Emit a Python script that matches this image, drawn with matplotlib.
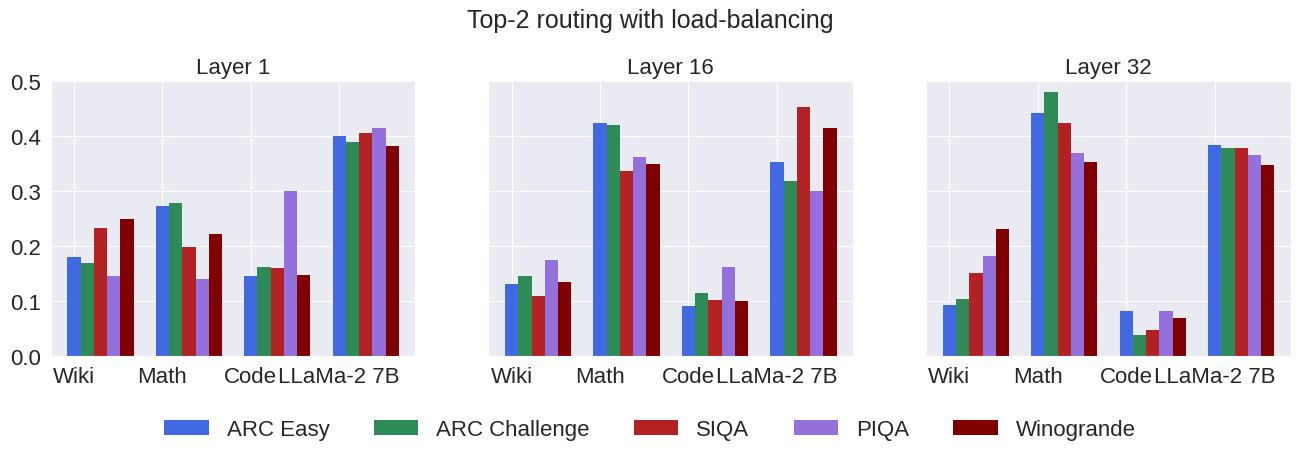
import numpy as np
import matplotlib

matplotlib.use("Agg")
import matplotlib.pyplot as plt
import seaborn as sns

sns.set_style("darkgrid")
plt.rcParams["font.family"] = ["Liberation Sans", "DejaVu Sans"]

# ── Data ──────────────────────────────────────────────────────────────────────
categories = ["Wiki", "Math", "Code", "LLaMa-2 7B"]
series = ["ARC Easy", "ARC Challenge", "SIQA", "PIQA", "Winogrande"]
colors = ["royalblue", "seagreen", "firebrick", "mediumpurple", "maroon"]
layers = ["Layer 1", "Layer 16", "Layer 32"]

# values[layer][series] -> one value per category
layer1 = [
    [0.180, 0.273, 0.145, 0.400],
    [0.169, 0.278, 0.162, 0.388],
    [0.233, 0.198, 0.160, 0.406],
    [0.145, 0.140, 0.300, 0.415],
    [0.249, 0.222, 0.147, 0.382],
]
layer16 = [
    [0.131, 0.424, 0.091, 0.353],
    [0.145, 0.420, 0.114, 0.318],
    [0.109, 0.337, 0.101, 0.453],
    [0.174, 0.362, 0.162, 0.300],
    [0.134, 0.349, 0.100, 0.415],
]
layer32 = [
    [0.092, 0.442, 0.081, 0.384],
    [0.103, 0.479, 0.039, 0.378],
    [0.151, 0.424, 0.047, 0.378],
    [0.182, 0.369, 0.081, 0.366],
    [0.231, 0.353, 0.069, 0.348],
]
all_layers = [layer1, layer16, layer32]

# ── Plot ──────────────────────────────────────────────────────────────────────
fig, axes = plt.subplots(1, 3, figsize=(13, 4.6), dpi=100, sharey=True)
x = np.arange(len(categories))
width = 0.15

for ax, name, vals in zip(axes, layers, all_layers):
    for i, (label, col) in enumerate(zip(series, colors)):
        ax.bar(x + i * width, vals[i], width, color=col, label=label, linewidth=0)
    ax.set_xticks(x)
    ax.set_xticklabels(categories, fontsize=16)
    ax.set_title(name, fontsize=16)
    ax.set_ylim(0, 0.5)
    ax.tick_params(axis="y", labelsize=16)

axes[0].set_yticks([0.0, 0.1, 0.2, 0.3, 0.4, 0.5])

handles, labels = axes[0].get_legend_handles_labels()
fig.legend(handles, labels, loc="center", bbox_to_anchor=(0.5, 0.064),
           ncol=5, frameon=False, fontsize=16)
fig.suptitle("Top-2 routing with load-balancing", fontsize=18, y=0.98)

plt.subplots_adjust(left=0.039, right=0.993, top=0.822, bottom=0.224, wspace=0.2)
fig.savefig("out.png", dpi=100)
